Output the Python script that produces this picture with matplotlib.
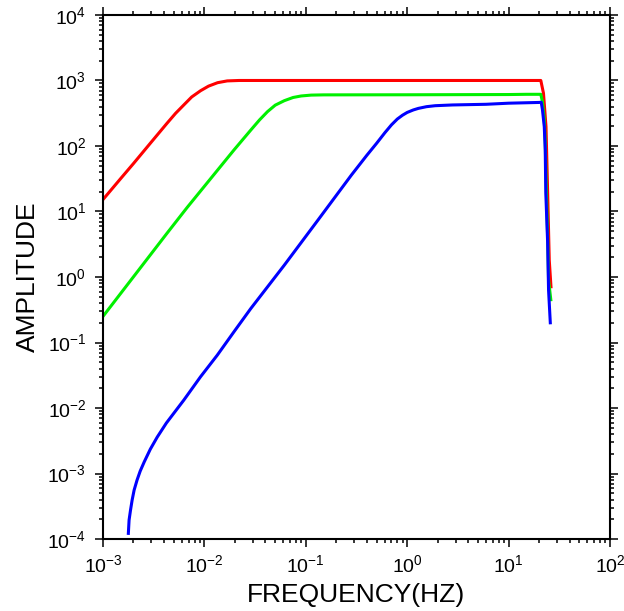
import matplotlib
matplotlib.use("Agg")
import matplotlib.pyplot as plt
from matplotlib.ticker import LogLocator, NullFormatter

# ==========================
# Data
# ==========================
red_freq = [1.0e-3, 1.5e-3, 2.0e-3, 2.93e-3, 4.28e-3, 5.2e-3, 6.27e-3, 7.5e-3, 9.18e-3, 1.1e-2,
            1.35e-2, 1.68e-2, 2.2e-2, 0.1, 1.0, 10.0, 20.8, 22.1, 23.4, 24.3, 25.2, 26.2]
red_amp = [15.2, 32, 54, 110, 222, 315, 423, 560, 698, 820,
           925, 985, 1000, 1000, 1000, 1000, 1000, 638, 197, 19, 1.8, 0.71]

green_freq = [1.0e-3, 4.28e-3, 6.76e-3, 1.96e-2, 2.87e-2, 3.5e-2, 4.2e-2, 5.0e-2, 6.15e-2, 7.5e-2,
              9.0e-2, 0.113, 0.15, 1.0, 10.0, 15.0, 20.8, 21.6, 22.5, 23.0,
              23.5, 24.3, 24.8, 26.1]
green_amp = [0.25, 4.65, 11.5, 87, 175, 250, 335, 420, 492, 550,
             580, 598, 603, 605, 610, 615, 615, 470, 260, 115,
             25, 4, 0.9, 0.45]

blue_freq = [1.78e-3, 1.81e-3, 1.87e-3, 1.94e-3, 2.03e-3, 2.17e-3, 2.33e-3, 2.55e-3, 2.93e-3, 3.43e-3,
             4.22e-3, 6.27e-3, 9.17e-3, 1.34e-2, 1.96e-2, 2.87e-2, 6.15e-2, 0.132, 0.282, 0.4,
             0.5, 0.604, 0.7, 0.8, 0.9, 1.0, 1.15, 1.29, 1.55, 1.89,
             2.8, 6.0, 10.0, 20.0, 21.0, 21.6, 22.5, 23.0, 23.3, 24.3,
             24.8, 25.8]
blue_amp = [1.22e-4, 1.95e-4, 2.77e-4, 3.94e-4, 5.6e-4, 7.96e-4, 1.09e-3, 1.5e-3, 2.35e-3, 3.6e-3,
            5.9e-3, 1.32e-2, 3.0e-2, 6.4e-2, 0.146, 0.33, 1.52, 7.4, 36, 72,
            110, 160, 210, 258, 295, 325, 355, 375, 398, 412,
            423, 433, 450, 462, 465, 355, 197, 87, 19, 3.3,
            0.63, 0.2]

x_ticks = [1e-3, 1e-2, 1e-1, 1e0, 1e1, 1e2]
y_ticks = [1e-4, 1e-3, 1e-2, 1e-1, 1e0, 1e1, 1e2, 1e3, 1e4]

plt.rcParams['font.family'] = ['Liberation Sans', 'DejaVu Sans']
plt.rcParams['axes.unicode_minus'] = False

fig = plt.figure(figsize=(6.24, 6.11), dpi=100)
ax = fig.add_axes([0.165, 0.1178, 0.8125, 0.8577])

ax.plot(red_freq, red_amp, color='#ff0000', lw=2.2)
ax.plot(green_freq, green_amp, color='#00f000', lw=2.2)
ax.plot(blue_freq, blue_amp, color='#0000ff', lw=2.2)

ax.set_xscale('log')
ax.set_yscale('log')
ax.set_xticks(x_ticks)
ax.set_yticks(y_ticks)
ax.set_xlim(1e-3, 1e2)
ax.set_ylim(1e-4, 1e4)

# ==========================
# GMT-like frame
# ==========================
for sp in ax.spines.values():
    sp.set_linewidth(1.5)

ax.xaxis.set_minor_locator(LogLocator(base=10, subs=range(2, 10), numticks=20))
ax.yaxis.set_minor_locator(LogLocator(base=10, subs=range(2, 10), numticks=20))
ax.xaxis.set_minor_formatter(NullFormatter())
ax.yaxis.set_minor_formatter(NullFormatter())
ax.xaxis.offsetText.set_visible(False)
ax.yaxis.offsetText.set_visible(False)

ax.tick_params(which='both', direction='out', top=True, right=True, width=1.1)
ax.tick_params(which='major', length=6, labelsize=14)
ax.tick_params(which='minor', length=3)
ax.tick_params(axis='x', pad=5)
ax.tick_params(axis='y', pad=6)

ax.set_xlabel('FREQUENCY(HZ)', fontsize=19, labelpad=5)
ax.set_ylabel('AMPLITUDE', fontsize=19, labelpad=5)

fig.savefig('out.png', dpi=100)
